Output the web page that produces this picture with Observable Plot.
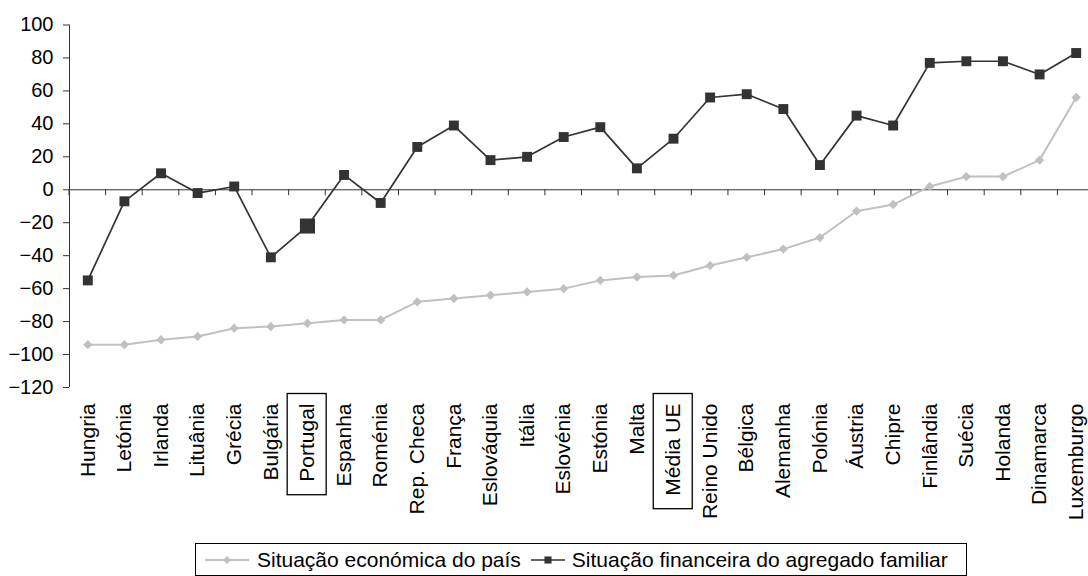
<!DOCTYPE html>
<html>
<head>
<meta charset="utf-8">
<script src="https://cdn.jsdelivr.net/npm/d3@7"></script>
<script src="https://cdn.jsdelivr.net/npm/@observablehq/plot@0.6"></script>
<style>
  html, body { margin: 0; padding: 0; background: #fff; }
  #wrap { position: relative; width: 1088px; height: 576px; overflow: hidden; font-family: "Liberation Sans", Arial, sans-serif; }
  #legend { position: absolute; left: 195px; top: 543px; width: 772px; height: 33px; box-sizing: border-box; border: 1px solid #000; display: flex; align-items: center; font-size: 21px; color: #000; white-space: nowrap; }
  #legend svg { flex: none; }
</style>
</head>
<body>
<div id="wrap"><div id="chart"></div><div id="legend"></div></div>
<script>
const countries = ["Hungria","Letónia","Irlanda","Lituânia","Grécia","Bulgária","Portugal","Espanha","Roménia","Rep. Checa","França","Eslováquia","Itália","Eslovénia","Estónia","Malta","Média UE","Reino Unido","Bélgica","Alemanha","Polónia","Áustria","Chipre","Finlândia","Suécia","Holanda","Dinamarca","Luxemburgo"];
const economica = [-94,-94,-91,-89,-84,-83,-81,-79,-79,-68,-66,-64,-62,-60,-55,-53,-52,-46,-41,-36,-29,-13,-9,2,8,8,18,56];
const financeira = [-55,-7,10,-2,2,-41,-22,9,-8,26,39,18,20,32,38,13,31,56,58,49,15,45,39,77,78,78,70,83];
const yTicks = [-120,-100,-80,-60,-40,-20,0,20,40,60,80,100];
const highlighted = ["Portugal","Média UE"];
const seriesNames = ["Situação económica do país","Situação financeira do agregado familiar"];

const rows = countries.map((c, i) => ({i, c, eco: economica[i], fin: financeira[i]}));
const idx = countries.map((_, i) => i);
const bounds = d3.range(-1, countries.length).map(i => i + 0.5);

const zeroTicks = (index, scales) => {
  const g = d3.create("svg:g").attr("stroke", "#333").attr("stroke-width", 1);
  const y0 = scales.y(0);
  for (const b of bounds) {
    const x = scales.x(b);
    g.append("line").attr("x1", x).attr("x2", x).attr("y1", y0).attr("y2", y0 + 6);
  }
  return g.node();
};

const chart = Plot.plot({
  width: 1088,
  height: 540,
  marginTop: 24.5,
  marginLeft: 69,
  marginRight: 0,
  marginBottom: 153,
  style: {fontFamily: "'Liberation Sans', Arial, sans-serif", fontSize: "20px", color: "#000", background: "#fff", overflow: "hidden"},
  x: {domain: [-0.5, countries.length - 0.5], range: [69, 1094], label: null},
  y: {domain: [-120, 100], label: null},
  marks: [
    Plot.ruleX([-0.5], {y1: -120, y2: 100, stroke: "#333"}),
    Plot.ruleY([0], {stroke: "#333"}),
    zeroTicks,
    Plot.axisY(yTicks, {tickSize: 6, tickPadding: 10, stroke: "#333", fontSize: 20, label: null}),
    Plot.axisX(idx, {tickFormat: i => countries[i], tickSize: 0, tickPadding: 16, tickRotate: -90, fontSize: 21, label: null}),
    Plot.line(rows, {x: "i", y: "eco", stroke: "#c0c0c0", strokeWidth: 2}),
    Plot.dot(rows, {x: "i", y: "eco", symbol: "diamond2", r: 4.2, fill: "#c0c0c0", stroke: null}),
    Plot.line(rows, {x: "i", y: "fin", stroke: "#333", strokeWidth: 1.7}),
    Plot.dot(rows.filter(d => d.c !== "Portugal"), {x: "i", y: "fin", symbol: "square", r: 5.6, fill: "#333", stroke: null}),
    Plot.dot(rows.filter(d => d.c === "Portugal"), {x: "i", y: "fin", symbol: "square", r: 8.5, fill: "#333", stroke: null})
  ]
});
document.getElementById("chart").appendChild(chart);

// Boxes around highlighted category labels
const svgRect = chart.getBoundingClientRect();
chart.querySelectorAll("text").forEach(t => {
  if (highlighted.includes(t.textContent)) {
    const r = t.getBoundingClientRect();
    const padX = 8, padTop = 10, padBottom = 13;
    d3.select(chart).append("rect")
      .attr("x", r.left - svgRect.left - padX)
      .attr("y", r.top - svgRect.top - padTop)
      .attr("width", r.width + 2 * padX)
      .attr("height", r.height + padTop + padBottom)
      .attr("fill", "none").attr("stroke", "#000").attr("stroke-width", 1.3);
  }
});

// Legend
const legend = d3.select("#legend");
function swatch(kind) {
  const s = legend.append("svg").attr("width", kind === "eco" ? 44 : 34).attr("height", 20);
  const w = +s.attr("width");
  s.append("line").attr("x1", 0).attr("x2", w).attr("y1", 10).attr("y2", 10)
    .attr("stroke", kind === "eco" ? "#c0c0c0" : "#333").attr("stroke-width", kind === "eco" ? 2 : 1.7);
  s.append("path").attr("transform", `translate(${w/2},10)`)
    .attr("d", d3.symbol(kind === "eco" ? d3.symbolDiamond2 : d3.symbolSquare, kind === "eco" ? 40 : 50)())
    .attr("fill", kind === "eco" ? "#c0c0c0" : "#333");
  return s;
}
legend.append("span").style("width", "9px").style("display", "inline-block");
swatch("eco");
legend.append("span").style("margin-left", "8px").style("margin-right", "10px").text(seriesNames[0]);
swatch("fin");
legend.append("span").style("margin-left", "7px").text(seriesNames[1]);
</script>
</body>
</html>
